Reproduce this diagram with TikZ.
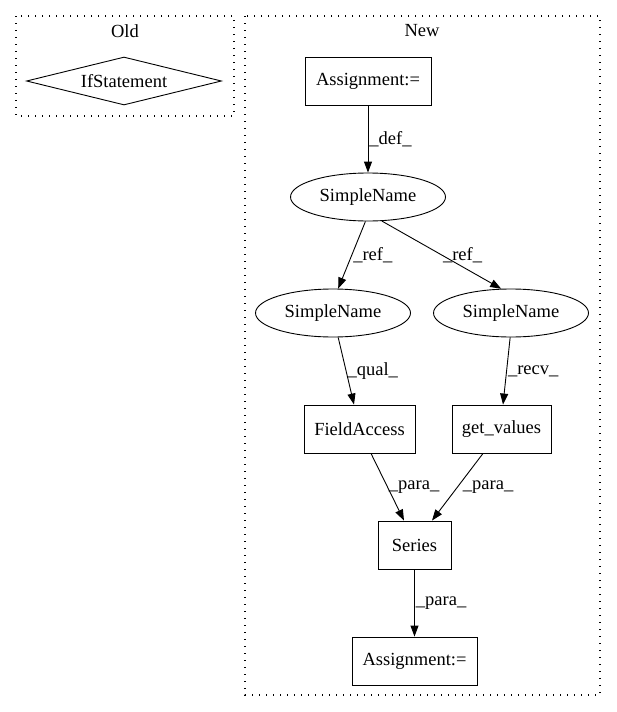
\documentclass[tikz,border=0pt]{standalone}
\usepackage{fontspec}
\setmainfont{Liberation Serif}
\usetikzlibrary{shapes.geometric,arrows.meta}
\begin{document}
\begin{tikzpicture}[x=1pt,y=-1pt,
  every node/.style={font=\fontsize{18.5}{21}\selectfont},
  cluster/.style={draw,line width=1.1pt,dash pattern=on 1.4pt off 5.6pt},
  boxnode/.style={draw,rectangle,line width=0.9pt,minimum height=48,inner sep=0pt},
  ellnode/.style={draw,ellipse,line width=0.9pt,minimum width=155,minimum height=48,inner sep=0pt},
  dianode/.style={draw,diamond,aspect=4,line width=0.9pt,minimum width=195,minimum height=48,inner sep=0pt},
  conn/.style={draw,line width=0.9pt,-{Triangle[length=11pt,width=8pt]}},
  elabel/.style={anchor=west,inner sep=1pt}]
\useasboundingbox (0,0) rectangle (616,712);
% clusters
\draw[cluster] (16,16) rectangle (234,116);
\node (oldlbl) at (125,31) {Old};
\draw[cluster] (245,16) rectangle (600,695);
\node (newlbl) at (422,31) {New};
% nodes
\node[dianode] (ifs) at (124,81) {IfStatement};
\node[boxnode,minimum width=126] (asg1) at (368,81) {Assignment:=};
\node[ellnode] (sn0) at (368,197) {SimpleName};
\node[ellnode] (sn1) at (333,313) {SimpleName};
\node[ellnode] (sn2) at (511,313) {SimpleName};
\node[boxnode,minimum width=111] (fa) at (359.5,429) {FieldAccess};
\node[boxnode,minimum width=99] (gv) at (501.5,429) {get\_values};
\node[boxnode,minimum width=73] (ser) at (414.5,545) {Series};
\node[boxnode,minimum width=125] (asg2) at (414.5,661) {Assignment:=};
% edges
\draw[conn] (asg1) -- node[elabel] {\_def\_} (sn0);
\draw[conn] (sn0.-96) -- node[elabel] {\_ref\_} (sn1.78);
\draw[conn] (sn0.-60) -- node[elabel] {\_ref\_} (sn2.112);
\draw[conn] (sn1.-78) -- node[elabel] {\_qual\_} (fa.north -| 354,0);
\draw[conn] (sn2.-92) -- node[elabel] {\_recv\_} (gv.north -| 503,0);
\draw[conn] (fa.south -| 371,0) -- node[elabel] {\_para\_} (ser.north -| 404,0);
\draw[conn] (gv.south -| 483,0) -- node[elabel,xshift=4pt] {\_para\_} (ser.north -| 432,0);
\draw[conn] (ser) -- node[elabel] {\_para\_} (asg2);
\end{tikzpicture}
\end{document}
